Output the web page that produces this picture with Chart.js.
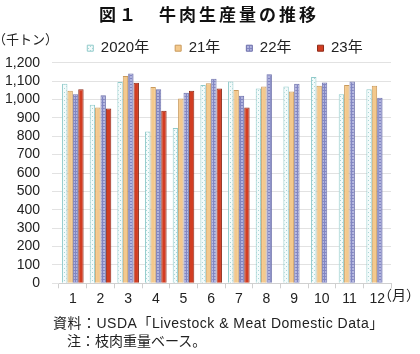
<!DOCTYPE html>
<html>
<head>
<meta charset="utf-8">
<script src="https://cdn.jsdelivr.net/npm/chart.js@4"></script>
<style>
  html, body { margin: 0; padding: 0; background: #fff; }
  #wrap { position: relative; width: 420px; height: 354px; overflow: hidden; }
  canvas { position: absolute; left: 0; top: 0; }
  .t { position: absolute; white-space: nowrap; color: #222; font-family: "Liberation Sans", Arial, "Noto Sans CJK JP", sans-serif; }
</style>
</head>
<body>
<div id="wrap">
  <canvas id="c" width="420" height="354"></canvas>
  <div class="t" style="left:99px; top:4px; font-size:17px; line-height:19px; font-weight:bold; letter-spacing:3px; color:#111; font-family:'Noto Sans CJK JP', sans-serif;">図１　牛肉生産量の推移</div>
  <div class="t" style="left:-7px; top:32px; font-size:13px; line-height:14px; font-family:'Noto Sans CJK JP', sans-serif;">（千トン）</div>
  <div class="t" style="left:378px; top:287px; font-size:14px; line-height:16px;">（月）</div>
  <div class="t" style="left:53px; top:315px; font-size:14px; line-height:16px; letter-spacing:0.5px;">資料：USDA「Livestock &amp; Meat Domestic Data」</div>
  <div class="t" style="left:67px; top:333px; font-size:14px; line-height:16px;">注：枝肉重量ベース。</div>
</div>
<script>
// ---- data ----
const months = ['1','2','3','4','5','6','7','8','9','10','11','12'];
const seriesNames = ['2020年','21年','22年','23年'];
const v2020 = [1086, 971, 1095, 826, 845, 1079, 1098, 1059, 1070, 1122, 1029, 1056];
const v2021 = [1047, 956, 1128, 1068, 1005, 1088, 1052, 1070, 1043, 1074, 1079, 1074];
const v2022 = [1029, 1023, 1141, 1056, 1037, 1113, 1020, 1137, 1086, 1092, 1098, 1010];
const v2023 = [1056, 951, 1091, 938, 1047, 1059, 956, null, null, null, null, null];
const yTicks = [0,100,200,300,400,500,600,700,800,900,1000,1100,1200];

// ---- patterns ----
function makePattern(size, draw) {
  const pc = document.createElement('canvas');
  pc.width = size; pc.height = size;
  const g = pc.getContext('2d');
  draw(g);
  return document.getElementById('c').getContext('2d').createPattern(pc, 'repeat');
}
const pat2020 = makePattern(4, g => {
  g.fillStyle = '#f4fbfb'; g.fillRect(0,0,4,4);
  g.fillStyle = '#a9d6d6'; g.fillRect(0,0,1,1); g.fillRect(2,2,1,1);
});
const pat2022 = makePattern(3, g => {
  g.fillStyle = '#b0b3de'; g.fillRect(0,0,3,3);
  g.fillStyle = '#8286c2'; g.fillRect(0,0,3,1); g.fillRect(0,0,1,3);
});

const FONT = "'Liberation Sans', Arial, 'Noto Sans CJK JP', sans-serif";

const legendFix = {
  id: 'legendFix',
  beforeLayout(chart) {
    const lg = chart.legend;
    if (lg && !lg._patched) {
      const f = lg.fit.bind(lg);
      lg.fit = function () { f(); this.height -= 3; };
      lg._patched = true;
    }
  }
};

new Chart(document.getElementById('c'), {
  type: 'bar',
  data: {
    labels: months,
    datasets: [
      { label: seriesNames[0], data: v2020, backgroundColor: pat2020, borderColor: '#8fcaca', borderWidth: 1 },
      { label: seriesNames[1], data: v2021, backgroundColor: '#f4c98c', borderColor: '#c99a5c', borderWidth: 1 },
      { label: seriesNames[2], data: v2022, backgroundColor: pat2022, borderColor: '#6f72ac', borderWidth: 1 },
      { label: seriesNames[3], data: v2023, backgroundColor: '#d23d22', borderColor: '#8e2a18', borderWidth: 1 }
    ]
  },
  options: {
    responsive: false,
    animation: false,
    devicePixelRatio: 1,
    layout: { padding: { top: 14.7, right: 29, bottom: 50.7, left: 0 } },
    datasets: { bar: { categoryPercentage: 0.78, barPercentage: 1.0 } },
    plugins: {
      legend: {
        position: 'top',
        fullSize: false,
        labels: { font: { family: FONT, size: 15 }, color: '#222', boxWidth: 6, boxHeight: 6, padding: 26 }
      },
      tooltip: { enabled: false },
      title: { display: false }
    },
    scales: {
      x: {
        grid: { display: true, drawOnChartArea: false, drawTicks: true, tickLength: 5, color: '#d0d0d0' },
        border: { display: true, color: '#d0d0d0' },
        ticks: { font: { family: FONT, size: 14 }, color: '#222', padding: 2, maxRotation: 0, autoSkip: false },
        afterFit(s) { s.height = 20; }
      },
      y: {
        min: 0, max: 1200,
        afterBuildTicks(s) { s.ticks = yTicks.map(v => ({ value: v })); },
        grid: { color: '#e2e2e2', tickLength: 7, drawTicks: true },
        border: { display: false },
        ticks: {
          font: { family: FONT, size: 14 }, color: '#222', padding: 12, autoSkip: false,
          callback: v => v.toLocaleString('en-US')
        },
        afterFit(s) { s.width = 59; }
      }
    }
  },
  plugins: [legendFix]
});
</script>
</body>
</html>
